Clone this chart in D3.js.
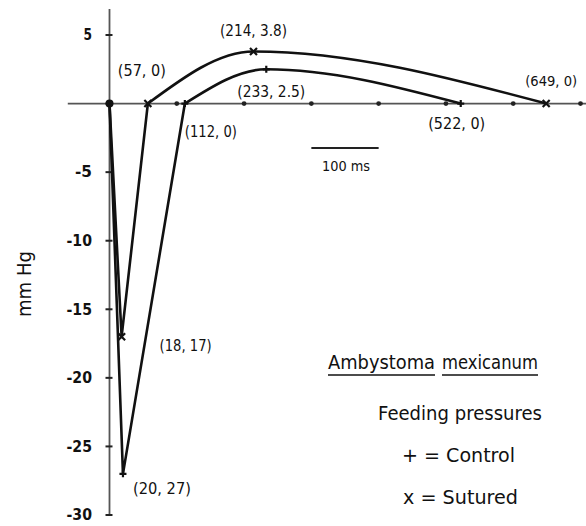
<!DOCTYPE html>
<html><head><meta charset="utf-8">
<script src="https://cdn.jsdelivr.net/npm/d3@7"></script>
<style>
html,body{margin:0;padding:0;background:#fff;}
text{font-family:"DejaVu Sans","Liberation Sans",sans-serif;fill:#111;}
</style></head>
<body>
<svg id="c" width="586" height="526"></svg>
<script>
// Data (time in ms, pressure in mm Hg)
const controlTimes = [0, 20, 112, 233, 522];
const controlValues = [0, -27, 0, 2.5, 0];
const suturedTimes = [0, 18, 57, 214, 649];
const suturedValues = [0, -17, 0, 3.8, 0];
const yTicks = [5, 0, -5, -10, -15, -20, -25, -30];
const yTickLabels = ["5", "", "-5", "-10", "-15", "-20", "-25", "-30"];
const xTicks = [100, 200, 300, 400, 500, 600, 700];
const pointLabels = [
  {t: 57, v: 0, text: "(57, 0)"},
  {t: 214, v: 3.8, text: "(214, 3.8)"},
  {t: 233, v: 2.5, text: "(233, 2.5)"},
  {t: 112, v: 0, text: "(112, 0)"},
  {t: 522, v: 0, text: "(522, 0)"},
  {t: 649, v: 0, text: "(649, 0)"},
  {t: 18, v: -17, text: "(18, 17)"},
  {t: 20, v: -27, text: "(20, 27)"}
];
const legendTitle = ["Ambystoma", "mexicanum"];
const legendLines = ["Feeding pressures", "+ = Control", "x = Sutured"];
const yAxisTitle = "mm Hg";
const scaleBarLabel = "100 ms";

const svg = d3.select("#c");
const x = d3.scaleLinear().domain([0, 700]).range([109.5, 580.5]);
const y = d3.scaleLinear().domain([-30, 5]).range([515, 35]);

const axisColor = "#555";
svg.append("line").attr("x1", x(-62)).attr("x2", x(710)).attr("y1", y(0)).attr("y2", y(0))
  .attr("stroke", axisColor).attr("stroke-width", 1.8);
svg.append("line").attr("x1", x(0)).attr("x2", x(0)).attr("y1", y(6.9)).attr("y2", y(-30))
  .attr("stroke", axisColor).attr("stroke-width", 1.8);
svg.selectAll(".yt").data(yTicks).enter().append("line")
  .attr("x1", x(0) - 4).attr("x2", x(0) + 3).attr("y1", d => y(d)).attr("y2", d => y(d))
  .attr("stroke", "#222").attr("stroke-width", 2);
svg.selectAll(".ytl").data(yTicks).enter().append("text")
  .attr("x", 92).attr("y", d => y(d)).attr("dy", "0.35em").attr("text-anchor", "end")
  .attr("font-size", 15).attr("font-weight", "bold")
  .attr("textLength", (d, i) => yTickLabels[i].length ? yTickLabels[i].length * 8.5 : null)
  .attr("lengthAdjust", "spacingAndGlyphs")
  .text((d, i) => yTickLabels[i]);
svg.selectAll(".xt").data(xTicks).enter().append("circle")
  .attr("cx", d => x(d)).attr("cy", y(0)).attr("r", 2.4).attr("fill", "#222");

svg.append("text").attr("transform", `translate(24,284) rotate(-90)`)
  .attr("text-anchor", "middle").attr("dy", "0.35em").attr("font-size", 20)
  .attr("textLength", 66).attr("lengthAdjust", "spacingAndGlyphs").text(yAxisTitle);

function drawSeries(times, values, marker) {
  const pts = times.map((t, i) => [t, values[i]]);
  const neg = pts.slice(0, 3);
  const pos = pts.slice(2);
  const lin = d3.line().x(d => x(d[0])).y(d => y(d[1]));
  const cur = d3.line().x(d => x(d[0])).y(d => y(d[1])).curve(d3.curveMonotoneX);
  svg.append("path").attr("d", lin(neg)).attr("fill", "none").attr("stroke", "#111").attr("stroke-width", 2.6);
  svg.append("path").attr("d", cur(pos)).attr("fill", "none").attr("stroke", "#111").attr("stroke-width", 2.6);
  const s = 3.5;
  pts.slice(1).forEach(p => {
    const cx = x(p[0]), cy = y(p[1]);
    const path = marker === "+"
      ? `M${cx - s},${cy}H${cx + s}M${cx},${cy - s}V${cy + s}`
      : `M${cx - s},${cy - s}L${cx + s},${cy + s}M${cx - s},${cy + s}L${cx + s},${cy - s}`;
    svg.append("path").attr("d", path).attr("stroke", "#111").attr("stroke-width", 2.2);
  });
}
drawSeries(controlTimes, controlValues, "+");
drawSeries(suturedTimes, suturedValues, "x");
svg.append("circle").attr("cx", x(0)).attr("cy", y(0)).attr("r", 4).attr("fill", "#111");

// label centre offsets (px), widths and font sizes
const offs = {
  "(57, 0)": [-6, -33, 48, 16], "(214, 3.8)": [0, -21, 67, 16], "(233, 2.5)": [5, 22, 68, 16],
  "(112, 0)": [26, 28, 52, 16], "(522, 0)": [-4, 20, 57, 16], "(649, 0)": [5, -22, 52, 14],
  "(18, 17)": [64, 9, 52, 16], "(20, 27)": [39, 15, 58, 16]
};
svg.selectAll(".pl").data(pointLabels).enter().append("text")
  .attr("x", d => x(d.t) + offs[d.text][0]).attr("y", d => y(d.v) + offs[d.text][1])
  .attr("dy", "0.35em").attr("text-anchor", "middle").attr("font-size", d => offs[d.text][3])
  .attr("textLength", d => offs[d.text][2]).attr("lengthAdjust", "spacingAndGlyphs")
  .text(d => d.text);

svg.append("line").attr("x1", x(300)).attr("x2", x(400)).attr("y1", 148).attr("y2", 148)
  .attr("stroke", "#222").attr("stroke-width", 2);
svg.append("text").attr("x", 346).attr("y", 166).attr("dy", "0.35em")
  .attr("text-anchor", "middle").attr("font-size", 14)
  .attr("textLength", 48).attr("lengthAdjust", "spacingAndGlyphs").text(scaleBarLabel);

const titlePos = [[381.5, 107], [490, 96]];
svg.selectAll(".lt").data(legendTitle).enter().append("text")
  .attr("x", (d, i) => titlePos[i][0]).attr("y", 362).attr("dy", "0.35em")
  .attr("text-anchor", "middle").attr("font-size", 19)
  .attr("textLength", (d, i) => titlePos[i][1]).attr("lengthAdjust", "spacingAndGlyphs")
  .text(d => d);
svg.selectAll(".ul").data(legendTitle).enter().append("line")
  .attr("x1", (d, i) => titlePos[i][0] - titlePos[i][1] / 2)
  .attr("x2", (d, i) => titlePos[i][0] + titlePos[i][1] / 2)
  .attr("y1", 375).attr("y2", 375).attr("stroke", "#111").attr("stroke-width", 1.6);

const legPos = [[460, 413, 164], [458.5, 455, 113], [460.5, 497, 115]];
svg.selectAll(".lg").data(legendLines).enter().append("text")
  .attr("x", (d, i) => legPos[i][0]).attr("y", (d, i) => legPos[i][1]).attr("dy", "0.35em")
  .attr("text-anchor", "middle").attr("font-size", 19)
  .attr("textLength", (d, i) => legPos[i][2]).attr("lengthAdjust", "spacingAndGlyphs")
  .text(d => d);
</script>
</body></html>
